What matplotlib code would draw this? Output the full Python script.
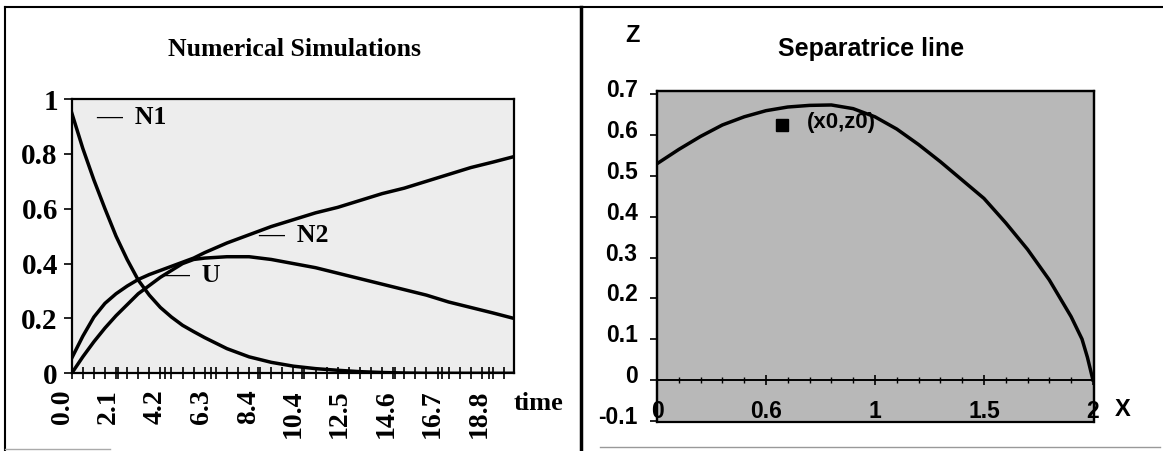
import matplotlib
matplotlib.use('Agg')
import matplotlib.pyplot as plt
from matplotlib.transforms import ScaledTranslation
from matplotlib.patches import Rectangle
from matplotlib.lines import Line2D

# --- données ---
temps = [0, 0.5, 1, 1.5, 2, 2.5, 3, 3.5, 4, 4.5, 5, 5.5, 6, 7, 8, 9, 10,
         11, 12, 13, 14, 15, 16, 17, 18, 19, 19.95]
n1 = [0.95, 0.82, 0.705, 0.60, 0.50, 0.415, 0.34, 0.285, 0.24, 0.205, 0.175,
      0.152, 0.13, 0.09, 0.06, 0.04, 0.026, 0.017, 0.011, 0.006, 0.003,
      0.001, 0, 0, 0, 0, 0]
n2 = [0.055, 0.135, 0.205, 0.255, 0.29, 0.318, 0.342, 0.36, 0.375, 0.39, 0.405,
      0.42, 0.44, 0.475, 0.505, 0.535, 0.56, 0.585, 0.605, 0.63, 0.655,
      0.675, 0.70, 0.725, 0.75, 0.77, 0.79]
u = [0, 0.06, 0.115, 0.165, 0.21, 0.25, 0.29, 0.32, 0.35, 0.375, 0.40,
     0.415, 0.42, 0.425, 0.425, 0.415, 0.40, 0.385, 0.365, 0.345, 0.325,
     0.305, 0.285, 0.26, 0.24, 0.22, 0.20]
etiquettes_temps = ["0.0", "2.1", "4.2", "6.3", "8.4", "10.4", "12.5",
                    "14.6", "16.7", "18.8"]
etiquettes_y1 = ["0", "0.2", "0.4", "0.6", "0.8", "1"]
valeurs_y1 = [0, 0.2, 0.4, 0.6, 0.8, 1.0]

sep_x = [0, 0.1, 0.2, 0.3, 0.4, 0.5, 0.6, 0.7, 0.8, 0.9, 1.0, 1.1, 1.2, 1.3,
         1.4, 1.5, 1.6, 1.7, 1.8, 1.9, 1.95, 1.975, 2.0]
sep_z = [0.53, 0.565, 0.597, 0.625, 0.645, 0.66, 0.669, 0.673, 0.674, 0.665,
         0.645, 0.615, 0.577, 0.535, 0.49, 0.445, 0.385, 0.32, 0.245, 0.155,
         0.10, 0.055, 0.0]
x0, z0 = 0.575, 0.625
ticks_x2 = [0, 0.5, 1, 1.5, 2]
etiquettes_x2 = ["0", "0.6", "1", "1.5", "2"]
ticks_z2 = [-0.1, 0, 0.1, 0.2, 0.3, 0.4, 0.5, 0.6, 0.7]
etiquettes_z2 = ["-0.1", "0", "0.1", "0.2", "0.3", "0.4", "0.5", "0.6", "0.7"]

W, H = 1163, 451
fig = plt.figure(figsize=(W / 100, H / 100), dpi=100)
serif = 'Liberation Serif'
sans = 'Liberation Sans'

def px(x, y):
    # pixels -> coordonnées figure
    return x / W, 1 - y / H

# --- cadre des panneaux ---
for (xa, ya), (xb, yb), lw, c in [((5, 7), (1163, 7), 1.5, 'black'),
                                  ((5, 7), (5, 451), 1.5, 'black'),
                                  ((581, 7), (581, 451), 2.5, 'black'),
                                  ((600, 447), (1160, 447), 1.0, '#999999'),
                                  ((5, 449), (110, 449), 1.0, '#aaaaaa')]:
    p1, p2 = px(xa, ya), px(xb, yb)
    fig.add_artist(Line2D([p1[0], p2[0]], [p1[1], p2[1]], lw=lw, color=c))

# --- panneau gauche ---
ax1 = fig.add_axes([71.7 / W, 1 - 373.3 / H, 442.3 / W, 274.3 / H])
ax1.set_facecolor('#ededed')
ax1.plot(temps, n1, color='black', lw=2.5)
ax1.plot(temps, n2, color='black', lw=2.5)
ax1.plot(temps, u, color='black', lw=2.5)
ax1.set_xlim(0, 19.95)
ax1.set_ylim(0, 1.0)
for s in ax1.spines.values():
    s.set_linewidth(1.6)
ax1.set_xticks([float(e) for e in etiquettes_temps])
ax1.set_xticklabels(etiquettes_temps, rotation=90, fontfamily=serif,
                    fontweight='bold', fontsize=20)
ax1.set_xticks([i * 0.5 for i in range(40)], minor=True)
ax1.tick_params(axis='x', which='both', direction='inout', length=9,
                width=1.2, pad=7)
ax1.set_yticks(valeurs_y1)
ax1.set_yticklabels(etiquettes_y1, fontfamily=serif, fontweight='bold',
                    fontsize=21)
ax1.tick_params(axis='y', direction='out', length=6, width=1.2, pad=4)
decal = ScaledTranslation(-9.5 / 100, 0, fig.dpi_scale_trans)
for lab in ax1.get_xticklabels():
    lab.set_transform(lab.get_transform() + decal)

ax1.text(1.12, 0.91, "\u2014  N1", fontfamily=serif, fontweight='bold',
         fontsize=18.5, va='baseline')
ax1.text(8.4, 0.477, "\u2014  N2", fontfamily=serif, fontweight='bold',
         fontsize=18.5, va='baseline')
ax1.text(4.12, 0.332, "\u2014  U", fontfamily=serif, fontweight='bold',
         fontsize=18.5, va='baseline')

fig.text(*px(294, 49), "Numerical Simulations", fontfamily=serif,
         fontweight='bold', fontsize=18.5, ha='center', va='center')
fig.text(*px(514, 403), "time", fontfamily=serif, fontweight='bold',
         fontsize=19, ha='left', va='center')

# --- panneau droit ---
ax2 = fig.add_axes([657 / W, 1 - 421.5 / H, 437 / W, 330.8 / H])
ax2.set_facecolor('#b8b8b8')
ax2.plot(sep_x, sep_z, color='black', lw=2.5)
ax2.plot([x0], [z0], marker='s', color='black', markersize=8, ls='none')
ax2.text(0.688, 0.632, "(x0,z0)", fontfamily=sans, fontweight='bold',
         fontsize=16, va='center')
ax2.set_xlim(0, 2.005)
ax2.set_ylim(-0.102, 0.709)
for nom in ['left', 'right', 'top']:
    ax2.spines[nom].set_linewidth(1.6)
ax2.spines['bottom'].set_position(('data', 0))
ax2.spines['bottom'].set_linewidth(1.4)
ax2.add_patch(Rectangle((0, 0), 1, 1, transform=ax2.transAxes, fill=False,
                        lw=1.6, color='black', clip_on=False))
ax2.set_xticks(ticks_x2)
ax2.set_xticklabels(etiquettes_x2, fontfamily=sans, fontweight='bold',
                    fontsize=16.5)
ax2.set_xticks([i * 0.1 for i in range(21)], minor=True)
ax2.tick_params(axis='x', which='major', direction='inout', length=7,
                width=1.2, pad=11)
ax2.tick_params(axis='x', which='minor', direction='inout', length=5,
                width=1.0)
ax2.set_yticks(ticks_z2)
ax2.set_yticklabels(etiquettes_z2, fontfamily=sans, fontweight='bold',
                    fontsize=16.5)
ax2.tick_params(axis='y', direction='out', length=5, width=1.2, pad=9)
haut = ScaledTranslation(0, 6 / 100, fig.dpi_scale_trans)
for lab in ax2.get_yticklabels():
    lab.set_transform(lab.get_transform() + haut)

fig.text(*px(871, 49), "Separatrice line", fontfamily=sans,
         fontweight='bold', fontsize=18, ha='center', va='center')
fig.text(*px(632, 36), "Z", fontfamily=sans, fontweight='bold',
         fontsize=17, ha='center', va='center')
fig.text(*px(1123, 409), "X", fontfamily=sans, fontweight='bold',
         fontsize=17, ha='center', va='center')

fig.savefig('out.png', dpi=100)
